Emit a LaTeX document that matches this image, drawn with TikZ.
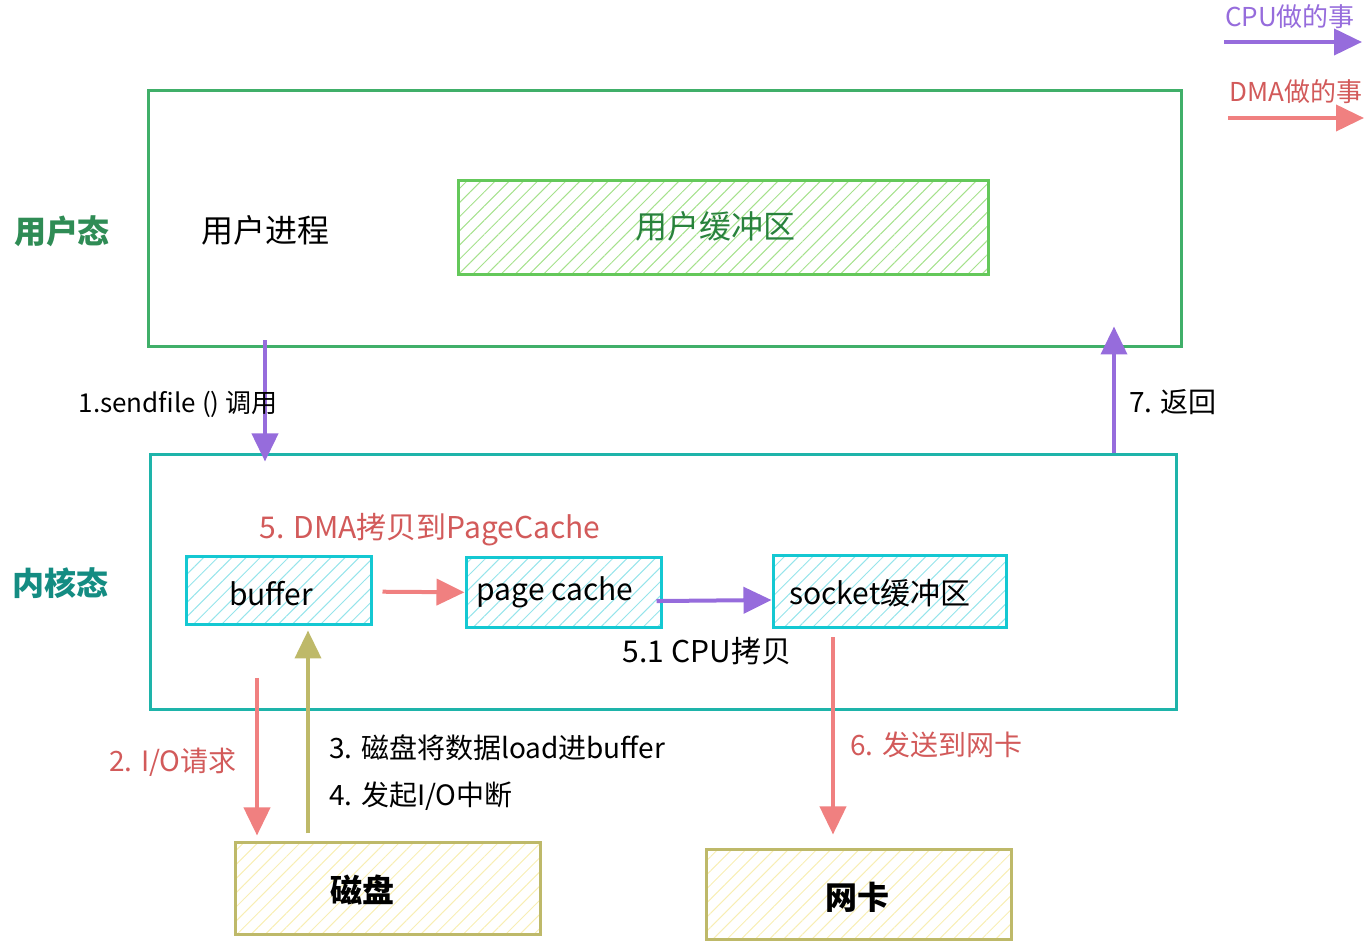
\documentclass[tikz,border=0pt]{standalone}
\usepackage{fontspec}
\setmainfont{Noto Sans CJK SC}
\usepackage{tikz}
\usetikzlibrary{arrows.meta, fit, patterns.meta, positioning}
\definecolor{usergreen}{RGB}{64,175,105}
\definecolor{statusgreen}{RGB}{47,140,85}
\definecolor{bufgreen}{RGB}{100,200,90}
\definecolor{bufhatch}{RGB}{165,225,140}
\definecolor{buftext}{RGB}{40,130,60}
\definecolor{kernelteal}{RGB}{30,180,170}
\definecolor{statusteal}{RGB}{20,140,130}
\definecolor{cachecyan}{RGB}{20,200,210}
\definecolor{cachehatch}{RGB}{150,228,235}
\definecolor{dmatext}{RGB}{210,90,90}
\definecolor{dmared}{RGB}{240,128,128}
\definecolor{cpupurple}{RGB}{150,108,220}
\definecolor{devolive}{RGB}{190,185,105}
\definecolor{devhatch}{RGB}{248,238,180}
\tikzstyle{cpuarrow} = [line width=2pt, draw=cpupurple, -{Triangle[length=14pt,width=13pt]}]
\tikzstyle{dmaarrow} = [line width=2pt, draw=dmared, -{Triangle[length=14pt,width=13pt]}]
\tikzstyle{diskarrow} = [line width=2pt, draw=devolive, -{Triangle[length=14pt,width=13pt]}]
\tikzstyle{zone} = [draw, line width=1.5pt, inner sep=0pt]
\tikzstyle{cachebox} = [draw=cachecyan, line width=1.5pt, inner sep=0pt, pattern={Lines[angle=45,distance=5pt,line width=0.5pt]}, pattern color=cachehatch]
\tikzstyle{devbox} = [draw=devolive, line width=1.5pt, inner sep=0pt, pattern={Lines[angle=45,distance=5pt,line width=0.5pt]}, pattern color=devhatch]
\tikzstyle{txt} = [font=\fontsize{14}{16}\selectfont, inner sep=1pt]
\tikzstyle{boxtxt} = [font=\fontsize{15}{17}\selectfont, inner sep=1pt]
\begin{document}
\begin{tikzpicture}[x=0.5pt, y=-0.5pt]
		\useasboundingbox (0,0) rectangle (1372,945);
		% legend
		\node (cpulegend) [txt, text=cpupurple, font=\fontsize{13}{15}\selectfont] at (1290,17) {CPU做的事};
		\coordinate (cpufrom) at (1224,42);
		\coordinate (cputo) at (1362,42);
		\draw [cpuarrow] (cpufrom) -- (cputo);
		\node (dmalegend) [txt, text=dmatext, font=\fontsize{13}{15}\selectfont] at (1296,92) {DMA做的事};
		\coordinate (dmafrom) at (1228,118);
		\coordinate (dmato) at (1364,118);
		\draw [dmaarrow] (dmafrom) -- (dmato);
		% user space
		\node (userbox) [zone, draw=usergreen, fit={(148,91) (1181,347)}] {};
		\node (userstate) [txt, text=statusgreen, font=\bfseries\fontsize{16}{18}\selectfont] at (62,231) {用户态};
		\node (process) [txt, font=\fontsize{16}{18}\selectfont] at (265,230) {用户进程};
		\node (userbuf) [zone, draw=bufgreen, pattern={Lines[angle=45,distance=5pt,line width=0.5pt]}, pattern color=bufhatch, fit={(458,181) (988,275)}] {};
		\node (userbuftext) [boxtxt, text=buftext, font=\fontsize{16}{18}\selectfont] at (715,226) {用户缓冲区};
		% kernel space
		\node (kernelbox) [zone, draw=kernelteal, fit={(150,455) (1176,710)}] {};
		\node (kernelstate) [txt, text=statusteal, font=\bfseries\fontsize{16}{18}\selectfont] at (60,583) {内核态};
		\node (buf) [cachebox, fit={(186,557) (371,625)}] {};
		\node (buftext) [boxtxt] at (271,594) {buffer};
		\node (pagecache) [cachebox, fit={(466,558) (661,628)}] {};
		\node (pctext) [boxtxt] at (555,592) {page cache};
		\node (sockbuf) [cachebox, fit={(773,556) (1006,628)}] {};
		\node (socktext) [boxtxt] at (880,593) {socket缓冲区};
		\node (dmacopy) [txt, text=dmatext, font=\fontsize{15}{17}\selectfont] at (430,530) {5. DMA拷贝到PageCache};
		\node (cpucopy) [txt, font=\fontsize{15}{17}\selectfont] at (707,651) {5.1 CPU拷贝};
		\draw [dmaarrow, shorten <=5pt] (buf) -- (pagecache);
		\draw [cpuarrow, shorten <=-3pt] ([yshift=-4pt]pagecache.east) -- ([yshift=-4pt]sockbuf.west);
		% calls between user and kernel
		\coordinate (callx) at (265,0);
		\coordinate (retx) at (1114,0);
		\draw [cpuarrow, shorten <=-4pt, shorten >=-4pt] (userbox.south -| callx) -- (kernelbox.north -| callx);
		\node (call) [txt, font=\fontsize{13}{15}\selectfont] at (178,404) {1.sendfile () 调用};
		\draw [cpuarrow, shorten >=-11pt] (kernelbox.north -| retx) -- (userbox.south -| retx);
		\node (ret) [txt] at (1173,402) {7. 返回};
		% devices
		\node (disk) [devbox, fit={(235,843) (540,935)}] {};
		\node (disktext) [boxtxt, font=\bfseries\fontsize{16}{18}\selectfont] at (362,890) {磁盘};
		\node (nic) [devbox, fit={(706,850) (1011,940)}] {};
		\node (nictext) [boxtxt, font=\bfseries\fontsize{16}{18}\selectfont] at (857,897) {网卡};
		\coordinate (reqtop) at (257,678);
		\coordinate (loadx) at (308,0);
		\coordinate (sendx) at (833,0);
		\draw [dmaarrow, shorten >=3pt] (reqtop) -- (disk.north -| reqtop);
		\node (req) [txt, text=dmatext] at (173,762) {2. I/O请求};
		\draw [diskarrow, shorten <=4pt, shorten >=2pt] (disk.north -| loadx) -- (buf.south -| loadx);
		\node (load) [txt, anchor=west] at (327,748) {3. 磁盘将数据load进buffer};
		\node (irq) [txt, below=8pt of load.south west, anchor=north west] {4. 发起I/O中断};
		\draw [dmaarrow, shorten <=4pt, shorten >=7pt] (sockbuf.south -| sendx) -- (nic.north -| sendx);
		\node (send) [txt, text=dmatext, anchor=west] at (848,745) {6. 发送到网卡};
\end{tikzpicture}
\end{document}
